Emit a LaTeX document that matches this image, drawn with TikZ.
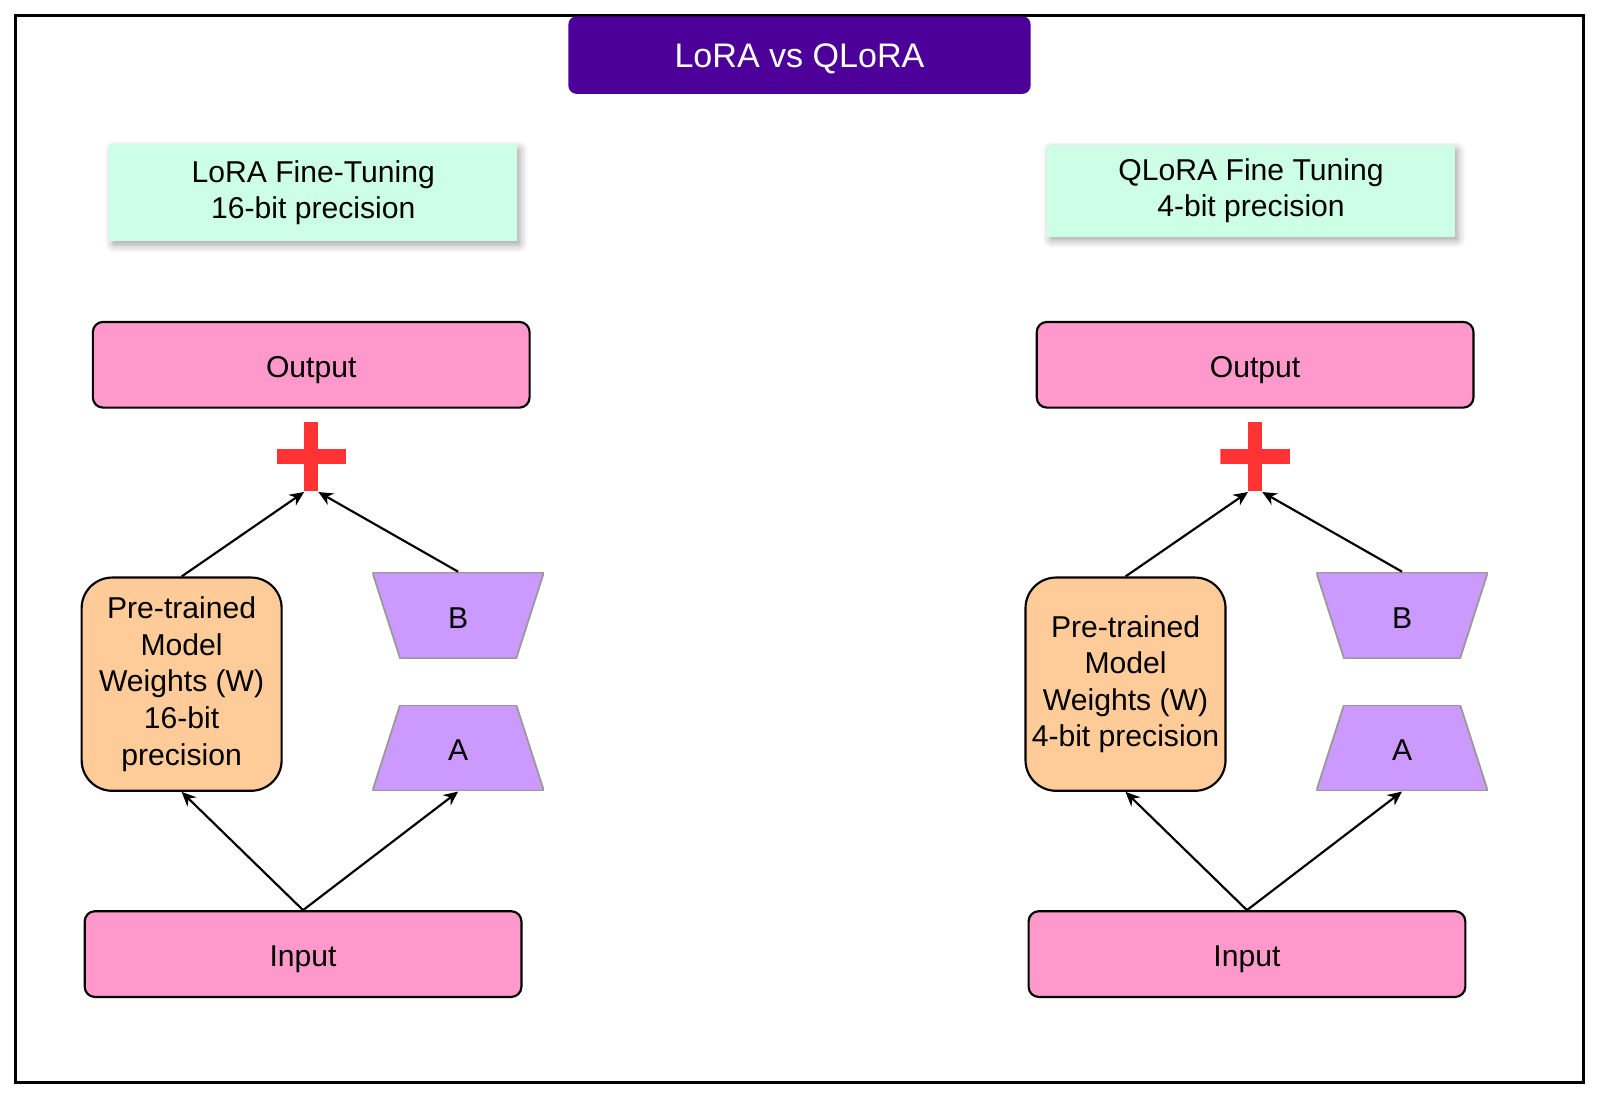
\documentclass[tikz,border=0pt]{standalone}
\usepackage{fontspec}
\setmainfont{Liberation Sans}
\usepackage{xcolor}
\usetikzlibrary{arrows.meta}
\usetikzlibrary{shadows.blur}

\definecolor{titlepurple}{HTML}{4C0099}
\definecolor{headmint}{HTML}{CCFFE6}
\definecolor{iopink}{HTML}{FF99CC}
\definecolor{weightorange}{HTML}{FFCC99}
\definecolor{adapterlilac}{HTML}{CC99FF}
\definecolor{plusred}{HTML}{FF3333}

\tikzset{
	txt/.style={font=\fontsize{8.4}{10.2}\selectfont, align=center, inner sep=0pt},
	oneline/.style={text height=0.8em, text depth=0.08em},
	titlebox/.style={oneline, font=\fontsize{9.5}{11}\selectfont, text=white, fill=titlepurple, rounded corners=0.08cm, minimum width=4.53cm, minimum height=0.76cm},
	headbox/.style={txt, fill=headmint, minimum width=4cm, blur shadow={shadow xshift=0.03cm, shadow yshift=-0.04cm, shadow blur steps=6, shadow blur extra rounding=0.02cm, shadow opacity=35}},
	iobox/.style={txt, oneline, draw, line width=0.6pt, fill=iopink, rounded corners=0.1cm, minimum width=4.28cm, minimum height=0.84cm},
	weightbox/.style={txt, draw, line width=0.6pt, fill=weightorange, rounded corners=0.3cm, minimum width=1.96cm, minimum height=2.09cm},
	adapterB/.style={txt, oneline, minimum width=1.68cm, minimum height=0.84cm, path picture={
		\filldraw[fill=adapterlilac, draw=gray!80, line width=0.5pt] (path picture bounding box.north west) -- (path picture bounding box.north east) -- ([xshift=-0.27cm]path picture bounding box.south east) -- ([xshift=0.27cm]path picture bounding box.south west) -- cycle;}},
	adapterA/.style={txt, oneline, minimum width=1.68cm, minimum height=0.84cm, path picture={
		\filldraw[fill=adapterlilac, draw=gray!80, line width=0.5pt] ([xshift=0.27cm]path picture bounding box.north west) -- ([xshift=-0.27cm]path picture bounding box.north east) -- (path picture bounding box.south east) -- (path picture bounding box.south west) -- cycle;}},
	plussign/.style={minimum size=0.68cm, inner sep=0pt, path picture={
		\fill[plusred] ([xshift=-0.07cm]path picture bounding box.north) rectangle ([xshift=0.07cm]path picture bounding box.south);
		\fill[plusred] ([yshift=0.07cm]path picture bounding box.west) rectangle ([yshift=-0.07cm]path picture bounding box.east);}},
	arr/.style={-{Stealth[length=4pt,width=3.6pt]}, line width=0.6pt}
}

\begin{document}
\begin{tikzpicture}
	\useasboundingbox (0,0) rectangle (15.68,10.77);
	\draw[line width=0.9pt] (0.15,0.16) rectangle (15.52,10.62);

	\node[titlebox] (title) at (7.835,10.23) {LoRA vs QLoRA};

	% LoRA side
	\node[headbox, minimum height=0.95cm] (headL) at (3.07,8.88) {LoRA Fine-Tuning\\16-bit precision};
	\node[iobox] (outL) at (3.05,7.195) {Output};
	\node[plussign] (plusL) at (3.05,6.295) {};
	\node[weightbox] (wL) at (1.78,4.065) {Pre-trained\\Model\\Weights (W)\\16-bit\\precision};
	\node[adapterB] (bL) at (4.49,4.74) {B};
	\node[adapterA] (aL) at (4.49,3.44) {A};
	\node[iobox] (inL) at (2.97,1.42) {Input};

	% QLoRA side
	\node[headbox, minimum height=0.90cm] (headR) at (12.26,8.90) {QLoRA Fine Tuning\\4-bit precision};
	\node[iobox] (outR) at (12.30,7.195) {Output};
	\node[plussign] (plusR) at (12.30,6.295) {};
	\node[weightbox] (wR) at (11.03,4.065) {Pre-trained\\Model\\Weights (W)\\4-bit precision};
	\node[adapterB] (bR) at (13.74,4.74) {B};
	\node[adapterA] (aR) at (13.74,3.44) {A};
	\node[iobox] (inR) at (12.22,1.42) {Input};

	\foreach \s in {L,R}{
		\draw[arr] (w\s.north) -- ([xshift=-0.07cm]plus\s.south);
		\draw[arr] (b\s.north) -- ([xshift=0.07cm]plus\s.south);
		\draw[arr] (in\s.north) -- (w\s.south);
		\draw[arr] (in\s.north) -- (a\s.south);
	};
\end{tikzpicture}
\end{document}
